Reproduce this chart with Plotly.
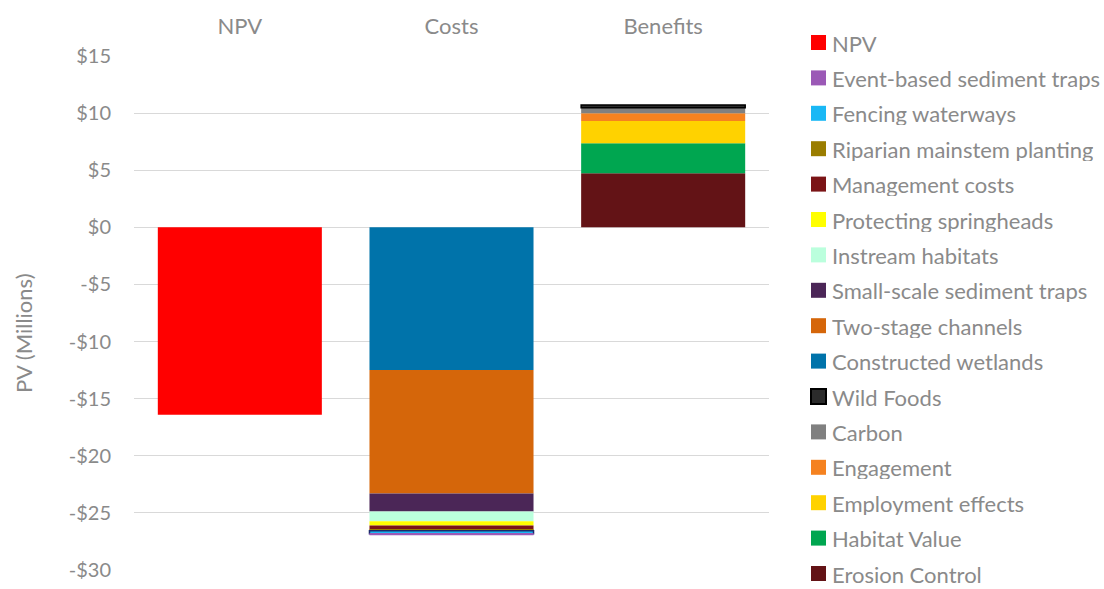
import plotly.graph_objects as go

# Present values (millions) by component
categories = ["NPV", "Costs", "Benefits"]

benefit_names = ["Erosion Control", "Habitat Value", "Employment effects",
                 "Engagement", "Carbon", "Wild Foods"]
benefit_values = [4.73, 2.63, 1.95, 0.67, 0.50, 0.22]
benefit_colors = ["#631316", "#00A650", "#FFD200", "#F58220", "#808080", "#2B2B2B"]

cost_names = ["Constructed wetlands", "Two-stage channels", "Small-scale sediment traps",
              "Instream habitats", "Protecting springheads", "Management costs",
              "Riparian mainstem planting", "Fencing waterways", "Event-based sediment traps"]
cost_values = [-12.5, -10.8, -1.58, -0.85, -0.37, -0.38, -0.09, -0.26, -0.12]
cost_colors = ["#0073AA", "#D5660A", "#4B2657", "#BBFFDD", "#FFFF00", "#7B1416",
               "#9A7D00", "#1AB8F5", "#9B59B6"]

npv_value = -16.4
npv_color = "#FF0000"

y_ticks = [15, 10, 5, 0, -5, -10, -15, -20, -25, -30]
y_tick_text = ["$15", "$10", "$5", "$0", "-$5", "-$10", "-$15", "-$20", "-$25", "-$30"]

text_color = "#8A8A8A"
font_family = "Lato, Open Sans, sans-serif"

W, H = 1104, 589
ML, MR, MT, MB = 134, 335, 56, 19
PW, PH = W - ML - MR, H - MT - MB


def px_to_paper(px, py):
    return (px - ML) / PW, (H - MB - py) / PH


fig = go.Figure()

borders = {"Wild Foods": dict(width=1.5, color="#000000"),
           "Fencing waterways": dict(width=1.5, color="#1A2A6C")}

for name, val, col in zip(benefit_names, benefit_values, benefit_colors):
    fig.add_trace(go.Bar(x=["Benefits"], y=[val], name=name,
                         marker=dict(color=col, line=borders.get(name, dict(width=0)))))

for name, val, col in zip(cost_names, cost_values, cost_colors):
    fig.add_trace(go.Bar(x=["Costs"], y=[val], name=name,
                         marker=dict(color=col, line=borders.get(name, dict(width=0)))))

fig.add_trace(go.Bar(x=["NPV"], y=[npv_value], name="NPV",
                     marker=dict(color=npv_color, line=dict(width=0))))

# Hand-placed legend: swatch + label, top to bottom in reverse stacking order
legend_names = ["NPV"] + cost_names[::-1] + benefit_names[::-1]
legend_colors = [npv_color] + cost_colors[::-1] + benefit_colors[::-1]

shapes = []
annotations = []
for i, (name, col) in enumerate(zip(legend_names, legend_colors)):
    cy = 42.5 + 35.4 * i
    x0, y0 = px_to_paper(811, cy + 7.5)
    x1, y1 = px_to_paper(826, cy - 7.5)
    edge = dict(width=2, color="#000000") if name == "Wild Foods" else dict(width=0)
    shapes.append(dict(type="rect", xref="paper", yref="paper",
                       x0=x0, y0=y0, x1=x1, y1=y1,
                       fillcolor=col, line=edge, layer="above"))
    tx, ty = px_to_paper(831, cy)
    annotations.append(dict(text=name, xref="paper", yref="paper", x=tx, y=ty,
                            xanchor="left", yanchor="middle", showarrow=False,
                            height=24, valign="middle", borderpad=0,
                            font=dict(size=22, color=text_color)))

tx, ty = px_to_paper(23, 333)
annotations.append(dict(text="PV (Millions)", textangle=-90,
                        xref="paper", yref="paper", x=tx, y=ty,
                        xanchor="center", yanchor="middle", showarrow=False,
                        font=dict(size=22, color=text_color)))

fig.update_layout(
    width=W, height=H,
    barmode="relative",
    bargap=0.225,
    plot_bgcolor="white", paper_bgcolor="white",
    margin=dict(l=ML, r=MR, t=MT, b=MB, autoexpand=False),
    font=dict(family=font_family, color=text_color, size=19),
    showlegend=False,
    xaxis=dict(
        categoryorder="array", categoryarray=categories,
        side="top", showgrid=False, showline=False, ticks="",
        ticklabelstandoff=17,
        tickfont=dict(size=22, color=text_color),
        range=[-0.5, 2.5],
    ),
    yaxis=dict(
        range=[-30, 15],
        tickvals=y_ticks,
        ticktext=y_tick_text,
        showgrid=True, gridcolor="#D9D9D9", gridwidth=1,
        zeroline=True, zerolinecolor="#D9D9D9", zerolinewidth=1,
        showline=False, ticks="",
        ticklabelstandoff=22,
        tickfont=dict(size=20, color=text_color),
    ),
    shapes=shapes,
    annotations=annotations,
)

fig.write_html("out.html")
